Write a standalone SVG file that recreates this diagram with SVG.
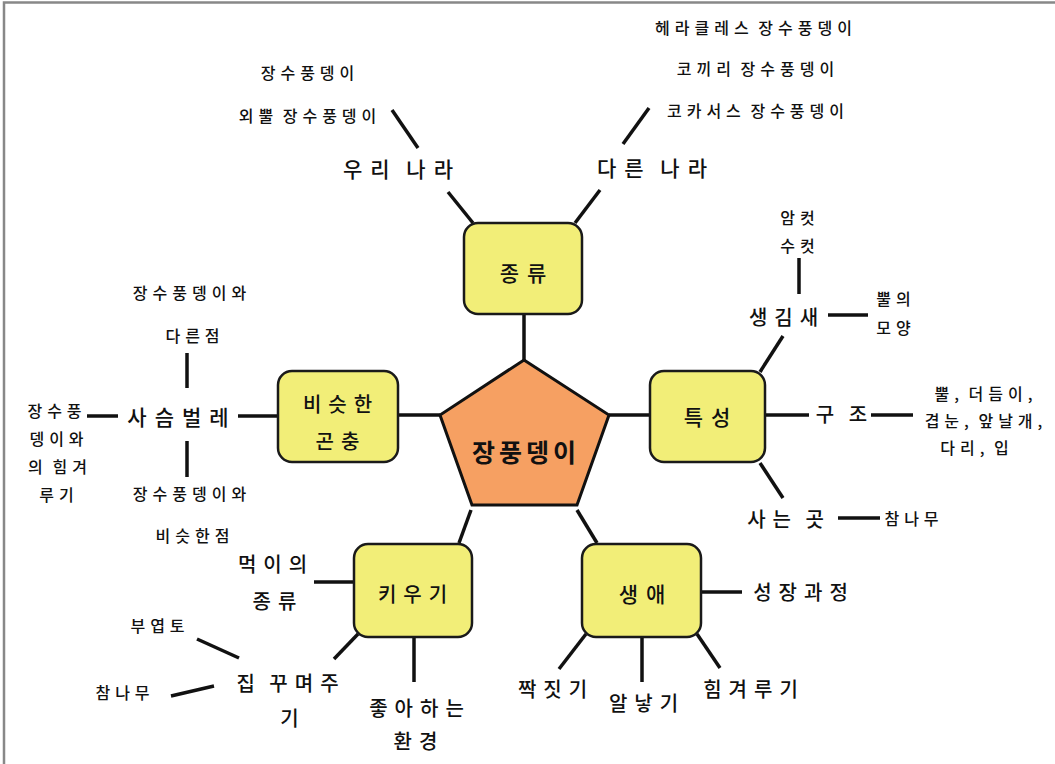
<svg xmlns="http://www.w3.org/2000/svg" width="1055" height="764" viewBox="0 0 1055 764">
<style>
text{font-family:"Noto Sans CJK KR","Noto Sans",sans-serif;fill:#111;text-anchor:middle;dominant-baseline:central;font-weight:500;word-spacing:-4px}
.s{font-size:16px;letter-spacing:5px}
.m{font-size:20px;letter-spacing:7px}
.b{font-size:21px;letter-spacing:8px}
.c{font-size:25px;font-weight:bold;letter-spacing:4px}
.box{fill:#F2EE78;stroke:#1a1a1a;stroke-width:2.5}
.pent{fill:#F6A062;stroke:#111;stroke-width:3}
#connectors line{stroke:#111;stroke-width:3.5;stroke-linecap:butt}
.frame{stroke:#888;stroke-width:2.5;fill:none}
</style>
<rect width="1055" height="764" fill="#fff"/>
<path class="frame" d="M4 764 V2.5 H1055"/>
<g id="connectors">
<line x1="524" y1="360" x2="524" y2="314"/>
<line x1="440" y1="415" x2="398" y2="415"/>
<line x1="609" y1="415" x2="650" y2="415"/>
<line x1="471" y1="510" x2="459" y2="543"/>
<line x1="577" y1="510" x2="597" y2="543"/>
<line x1="473" y1="223" x2="448" y2="192"/>
<line x1="575" y1="223" x2="600" y2="190"/>
<line x1="392" y1="110" x2="418" y2="148"/>
<line x1="649" y1="108" x2="623" y2="144"/>
<line x1="799" y1="258" x2="799" y2="294"/>
<line x1="828" y1="315" x2="868" y2="315"/>
<line x1="783" y1="336" x2="760" y2="372"/>
<line x1="765" y1="415" x2="809" y2="415"/>
<line x1="871" y1="415" x2="913" y2="415"/>
<line x1="760" y1="463" x2="783" y2="498"/>
<line x1="838" y1="518" x2="880" y2="518"/>
<line x1="187" y1="353" x2="187" y2="388"/>
<line x1="87" y1="416" x2="118" y2="416"/>
<line x1="238" y1="416" x2="278" y2="416"/>
<line x1="187" y1="441" x2="187" y2="477"/>
<line x1="314" y1="582" x2="354" y2="582"/>
<line x1="197" y1="639" x2="239" y2="658"/>
<line x1="171" y1="696" x2="214" y2="686"/>
<line x1="358" y1="634" x2="334" y2="659"/>
<line x1="414" y1="637" x2="414" y2="682"/>
<line x1="701" y1="592" x2="742" y2="592"/>
<line x1="586" y1="634" x2="559" y2="669"/>
<line x1="642" y1="637" x2="642" y2="682"/>
<line x1="697" y1="634" x2="720" y2="668"/>
</g>
<g id="center">
<polygon class="pent" points="524,360 609,415 577,505 472,505 440,415"/>
<text class="c" x="526" y="451">장풍뎅이</text>
</g>
<g id="kind">
<rect class="box" x="464" y="223" width="118" height="91" rx="14"/>
<text class="b" x="527" y="272">종류</text>
</g>
<g id="similar">
<rect class="box" x="278" y="371" width="120" height="91" rx="14"/>
<text class="m" x="341" y="403">비슷한</text>
<text class="m" x="341" y="440">곤충</text>
</g>
<g id="traits">
<rect class="box" x="650" y="371" width="115" height="91" rx="14"/>
<text class="b" x="711" y="416">특성</text>
</g>
<g id="raising">
<rect class="box" x="354" y="544" width="118" height="93" rx="14"/>
<text class="m" x="416" y="593">키우기</text>
</g>
<g id="life">
<rect class="box" x="582" y="544" width="119" height="93" rx="14"/>
<text class="b" x="646" y="593">생애</text>
</g>
<g id="korea">
<text class="b" x="402" y="168">우리 나라</text>
<text class="s" x="310" y="72">장수풍뎅이</text>
<text class="s" x="310" y="115">외뿔 장수풍뎅이</text>
</g>
<g id="other">
<text class="b" x="656" y="167">다른 나라</text>
<text class="s" x="756" y="27">헤라클레스 장수풍뎅이</text>
<text class="s" x="758" y="68">코끼리 장수풍뎅이</text>
<text class="s" x="758" y="110">코카서스 장수풍뎅이</text>
</g>
<g id="looks">
<text class="m" x="787" y="316">생김새</text>
<text class="s" x="800" y="217">암컷</text>
<text class="s" x="800" y="245">수컷</text>
<text class="s" x="896" y="298">뿔의</text>
<text class="s" x="896" y="327">모양</text>
</g>
<g id="structure">
<text class="m" x="845" y="413">구 조</text>
<text class="s" x="986" y="393">뿔, 더듬이,</text>
<text class="s" x="986" y="420">겹눈, 앞날개,</text>
<text class="s" x="977" y="447">다리, 입</text>
</g>
<g id="habitat">
<text class="m" x="789" y="518">사는 곳</text>
<text class="s" x="914" y="518">참나무</text>
</g>
<g id="stag">
<text class="b" x="182" y="416">사슴벌레</text>
<text class="s" x="192" y="292">장수풍뎅이와</text>
<text class="s" x="195" y="335">다른점</text>
<text class="s" x="192" y="493">장수풍뎅이와</text>
<text class="s" x="195" y="535">비슷한점</text>
<text class="s" x="57" y="410">장수풍</text>
<text class="s" x="59" y="438">뎅이와</text>
<text class="s" x="60" y="466">의 힘겨</text>
<text class="s" x="59" y="494">루기</text>
</g>
<g id="food">
<text class="m" x="276" y="563">먹이의</text>
<text class="m" x="278" y="600">종류</text>
</g>
<g id="house">
<text class="m" x="291" y="682">집 꾸며주</text>
<text class="m" x="293" y="717">기</text>
<text class="s" x="160" y="625">부엽토</text>
<text class="s" x="125" y="692">참나무</text>
</g>
<g id="env">
<text class="m" x="420" y="707">좋아하는</text>
<text class="m" x="419" y="740">환경</text>
</g>
<g id="growth">
<text class="m" x="804" y="591">성장과정</text>
</g>
<g id="mating">
<text class="m" x="556" y="688">짝짓기</text>
</g>
<g id="eggs">
<text class="m" x="647" y="702">알낳기</text>
</g>
<g id="fight">
<text class="m" x="754" y="688">힘겨루기</text>
</g>
</svg>
